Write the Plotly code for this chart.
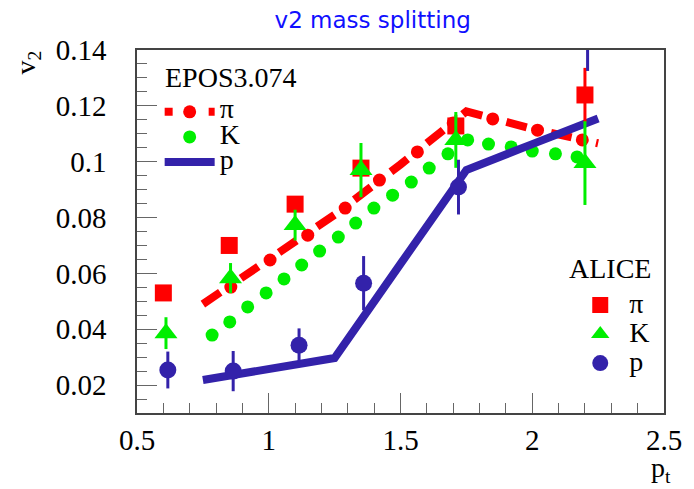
import plotly.graph_objects as go

# EPOS3.074 model curves (sampled every 0.25 GeV)
model_pt = [0.75, 1.0, 1.25, 1.5, 1.75, 2.0, 2.25]
epos_pi = [0.049, 0.0646, 0.081, 0.099, 0.118, 0.1118, 0.1066]
epos_p = [0.0218, 0.0257, 0.0297, 0.0634, 0.097, 0.1063, 0.1155]

# dots of the pi dash-dot pattern and of the dotted K curve
epos_pi_dot_pt = [0.856, 1.005, 1.148, 1.29, 1.42, 1.564, 1.70, 1.85, 2.02, 2.19]
epos_pi_dot_v2 = [0.0551, 0.0648, 0.0737, 0.0834, 0.0934, 0.1035, 0.1139, 0.1153, 0.1113, 0.1078]
epos_k_pt = [0.785, 0.852, 0.92, 0.99, 1.058, 1.125, 1.193, 1.264, 1.33, 1.399,
             1.47, 1.541, 1.609, 1.68, 1.755, 1.834, 1.92, 2.0, 2.088, 2.17]
epos_k_v2 = [0.0379, 0.0426, 0.048, 0.053, 0.058, 0.063, 0.068, 0.073, 0.078, 0.0834,
             0.088, 0.0927, 0.0977, 0.1028, 0.1078, 0.1063, 0.1053, 0.1038, 0.1028, 0.1017]

# ALICE data
alice_pi_pt = [0.6, 0.85, 1.1, 1.35, 1.71, 2.2]
alice_pi_v2 = [0.053, 0.070, 0.0848, 0.0977, 0.1128, 0.1239]
alice_pi_err = [0.002, 0.002, 0.002, 0.003, 0.004, 0.0097]

alice_k_pt = [0.61, 0.855, 1.1, 1.35, 1.71, 2.2]
alice_k_v2 = [0.0386, 0.0583, 0.0773, 0.097, 0.1078, 0.0995]
alice_k_err = [0.0057, 0.0054, 0.0055, 0.0097, 0.010, 0.015]

alice_p_pt = [0.617, 0.865, 1.115, 1.36, 1.72, 2.21]
alice_p_v2 = [0.0254, 0.025, 0.0343, 0.0565, 0.0909, 0.149]
alice_p_err = [0.0066, 0.0072, 0.006, 0.0097, 0.0098, 0.0165]

x_ticks = [0.5, 1, 1.5, 2, 2.5]
x_ticktext = ["0.5", "1", "1.5", "2", "2.5"]
y_ticks = [0.02, 0.04, 0.06, 0.08, 0.1, 0.12, 0.14]
y_ticktext = ["0.02", "0.04", "0.06", "0.08", "0.1", "0.12", "0.14"]

RED = "#ff0000"
GREEN = "#00ee00"
BLUE = "#3322aa"
SERIF = "Liberation Serif, Times New Roman, serif"


def big(s):
    # legend row height follows the legend font size, so the glyph is enlarged separately
    return '<span style="font-size:28px">' + s + "</span>"


fig = go.Figure()

# model curves
fig.add_trace(go.Scatter(x=model_pt, y=epos_pi, mode="lines", showlegend=False,
                         line=dict(color=RED, width=8, dash="21px,25px")))
fig.add_trace(go.Scatter(x=epos_pi_dot_pt, y=epos_pi_dot_v2, mode="markers", showlegend=False,
                         marker=dict(color=RED, size=13, symbol="circle")))
fig.add_trace(go.Scatter(x=epos_k_pt, y=epos_k_v2, mode="markers", showlegend=False,
                         marker=dict(color=GREEN, size=13, symbol="circle")))
fig.add_trace(go.Scatter(x=model_pt, y=epos_p, mode="lines", showlegend=False,
                         line=dict(color=BLUE, width=8)))

# legend entries for the model
fig.add_trace(go.Scatter(x=[None], y=[None], mode="lines+markers", name=big("π"), legend="legend",
                         line=dict(color=RED, width=8, dash="8px,14px"),
                         marker=dict(color=RED, size=13)))
fig.add_trace(go.Scatter(x=[None], y=[None], mode="markers", name=big("K"), legend="legend",
                         marker=dict(color=GREEN, size=13)))
fig.add_trace(go.Scatter(x=[None], y=[None], mode="lines", name=big("p"), legend="legend",
                         line=dict(color=BLUE, width=8)))

# ALICE points
fig.add_trace(go.Scatter(x=alice_pi_pt, y=alice_pi_v2, mode="markers", name=big("π"), legend="legend2",
                         marker=dict(color=RED, size=17, symbol="square"),
                         error_y=dict(type="data", array=alice_pi_err, color=RED, thickness=3, width=0)))
fig.add_trace(go.Scatter(x=alice_k_pt, y=alice_k_v2, mode="markers", name=big("K"), legend="legend2",
                         marker=dict(color=GREEN, size=20, symbol="triangle-up"),
                         error_y=dict(type="data", array=alice_k_err, color=GREEN, thickness=3, width=0)))
fig.add_trace(go.Scatter(x=alice_p_pt, y=alice_p_v2, mode="markers", name=big("p"), legend="legend2",
                         marker=dict(color=BLUE, size=17, symbol="circle"),
                         error_y=dict(type="data", array=alice_p_err, color=BLUE, thickness=3, width=0)))

axis_common = dict(
    showgrid=False, zeroline=False, showline=True, mirror=True,
    linecolor="#444", linewidth=1.5,
    ticks="inside", ticklen=20, tickcolor="#666", tickwidth=1,
    tickfont=dict(family=SERIF, size=29, color="black"),
)

label_font = dict(family=SERIF, size=28, color="black")

fig.update_layout(
    width=694, height=489,
    paper_bgcolor="white", plot_bgcolor="white",
    margin=dict(l=137, r=23, t=50, b=76),
    title=dict(text="v2 mass splitting", x=0.537, xanchor="center", y=0.959, yanchor="middle",
               font=dict(family="DejaVu Sans", size=23, color="#1010ff")),
    xaxis=dict(range=[0.5, 2.5], tickvals=x_ticks, ticktext=x_ticktext, ticklabelstandoff=0,
               minor=dict(ticks="inside", ticklen=10, tickcolor="#666", dtick=0.1, tick0=0.5),
               **axis_common),
    yaxis=dict(range=[0.01, 0.14], tickvals=y_ticks, ticktext=y_ticktext, ticklabelstandoff=23,
               minor=dict(ticks="inside", ticklen=10, tickcolor="#666", dtick=0.005, tick0=0),
               **axis_common),
    legend=dict(x=0.043, y=0.878, xanchor="left", yanchor="top", bgcolor="rgba(0,0,0,0)",
                font=dict(family=SERIF, size=17, color="black"), itemwidth=50, tracegroupgap=0),
    legend2=dict(x=0.824, y=0.351, xanchor="left", yanchor="top", bgcolor="rgba(0,0,0,0)",
                 font=dict(family=SERIF, size=20, color="black"), itemwidth=48, tracegroupgap=0),
    annotations=[
        # legend headings
        dict(text="EPOS3.074", xref="paper", yref="paper", x=0.05, y=0.9256,
             xanchor="left", yanchor="middle", showarrow=False, font=label_font),
        dict(text="ALICE", xref="paper", yref="paper", x=0.816, y=0.3994,
             xanchor="left", yanchor="middle", showarrow=False, font=label_font),
        # axis titles
        dict(text="v<sub>2</sub>", xref="paper", yref="paper", x=-0.206, y=0.967,
             xanchor="center", yanchor="middle", textangle=-90, showarrow=False, font=label_font),
        dict(text="p<sub>t</sub>", xref="paper", yref="paper", x=1.017, y=-0.155,
             xanchor="right", yanchor="middle", showarrow=False, font=label_font),
    ],
)

# the page body has a default 8px margin; drop it so the figure fills the window
fig.write_html("out.html", config={"displayModeBar": False},
               post_script="document.body.style.margin='0';")
